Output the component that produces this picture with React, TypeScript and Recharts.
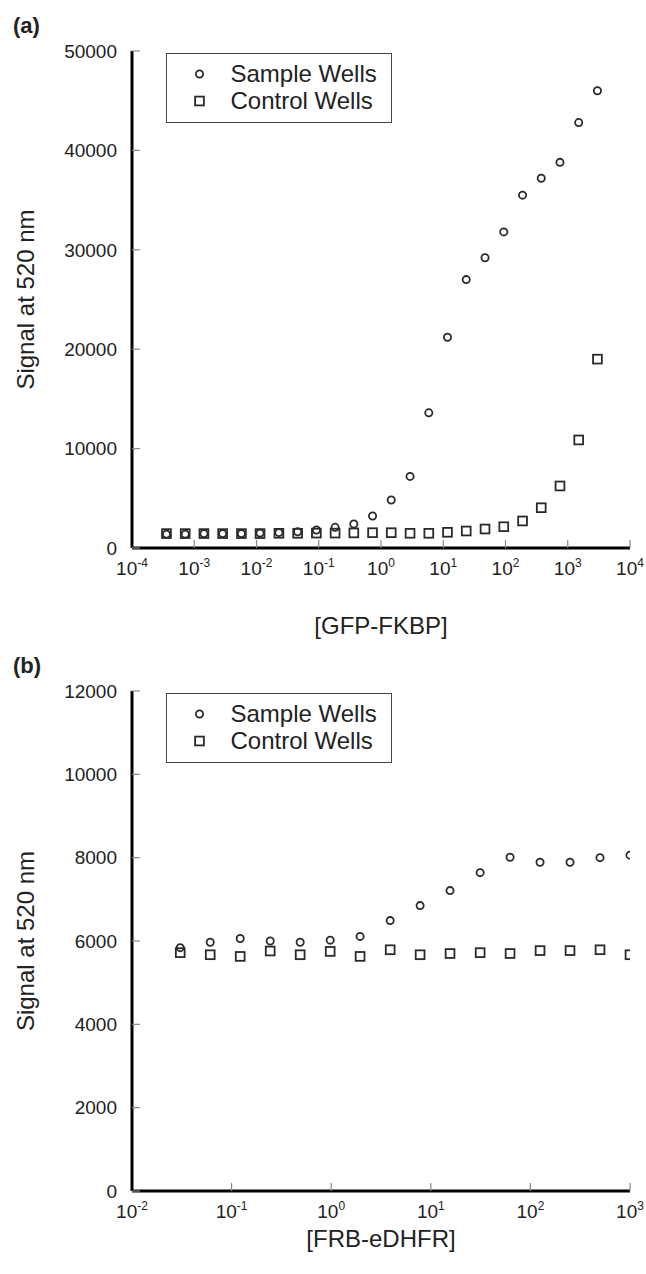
import React from 'react'
import { ScatterChart, Scatter, XAxis, YAxis, Legend } from 'recharts'

const FONT = '"Liberation Sans", Arial, Helvetica, sans-serif'
const INK = '#2a2a2a'

// (a) GFP-FKBP titration
const gfpConc = [
  0.000358, 0.000715, 0.00143, 0.00286, 0.00572, 0.0114, 0.0229, 0.0458,
  0.0916, 0.183, 0.366, 0.732, 1.46, 2.93, 5.86, 11.7, 23.4, 46.9, 93.8,
  188, 375, 750, 1500, 3000,
]
const gfpSample = [
  1400, 1400, 1450, 1450, 1450, 1500, 1550, 1640, 1810, 2080, 2410, 3220,
  4830, 7200, 13600, 21200, 27000, 29200, 31800, 35500, 37200, 38800, 42800, 46000,
]
const gfpControl = [
  1450, 1450, 1450, 1450, 1450, 1450, 1480, 1480, 1500, 1500, 1520, 1540,
  1540, 1480, 1480, 1580, 1710, 1910, 2140, 2720, 4050, 6240, 10870, 19000,
]
const gfpXTicks = [1e-4, 1e-3, 1e-2, 1e-1, 1, 10, 100, 1000, 10000]
const gfpYTicks = [0, 10000, 20000, 30000, 40000, 50000]

// (b) FRB-eDHFR titration
const frbConc = [
  0.0305, 0.061, 0.122, 0.244, 0.488, 0.977, 1.95, 3.91, 7.81, 15.6, 31.3,
  62.5, 125, 250, 500, 1000,
]
const frbSample = [
  5840, 5970, 6060, 6000, 5970, 6020, 6110, 6490, 6850, 7210, 7640, 8010,
  7890, 7890, 8000, 8060,
]
const frbControl = [
  5720, 5670, 5630, 5760, 5670, 5750, 5630, 5790, 5670, 5700, 5720, 5700,
  5770, 5770, 5790, 5670,
]
const frbXTicks = [1e-2, 1e-1, 1, 10, 100, 1000]
const frbYTicks = [0, 2000, 4000, 6000, 8000, 10000, 12000]

const legendItems = [
  { name: 'Sample Wells', shape: 'circle' },
  { name: 'Control Wells', shape: 'square' },
]

const toPoints = (conc: number[], vals: number[]) =>
  conc.map((c, i) => ({ conc: c, signal: vals[i] }))

function CircleMark(props: any) {
  const { cx, cy } = props
  return <circle cx={cx} cy={cy} r={3.6} fill="none" stroke={INK} strokeWidth={1.8} />
}

function SquareMark(props: any) {
  const { cx, cy } = props
  return (
    <rect x={cx - 4.4} y={cy - 4.4} width={8.8} height={8.8} fill="none" stroke={INK} strokeWidth={1.8} />
  )
}

function PowerTick(props: any) {
  const { x, y, payload } = props
  const exp = Math.round(Math.log10(payload.value))
  return (
    <text x={x} y={y} textAnchor="middle" fontFamily={FONT} fontSize={19} fill="#222">
      10
      <tspan dy={-8} fontSize={12}>
        {exp}
      </tspan>
    </text>
  )
}

function WellsLegend() {
  return (
    <div
      style={{
        width: 226,
        height: 70,
        border: '1.5px solid #444',
        boxSizing: 'border-box',
        background: '#fff',
        position: 'relative',
        fontFamily: FONT,
        fontSize: 24,
        color: '#222',
      }}
    >
      {legendItems.map((item, i) => (
        <div
          key={item.name}
          style={{ position: 'absolute', left: 0, top: 6.5 + i * 27.7, height: 26, display: 'flex', alignItems: 'center' }}
        >
          <svg width={60} height={26}>
            {item.shape === 'circle' ? (
              <circle cx={32.5} cy={13} r={3.6} fill="none" stroke={INK} strokeWidth={1.8} />
            ) : (
              <rect x={28.1} y={8.6} width={8.8} height={8.8} fill="none" stroke={INK} strokeWidth={1.8} />
            )}
          </svg>
          <span style={{ marginLeft: 3.5, lineHeight: '26px', whiteSpace: 'nowrap' }}>{item.name}</span>
        </div>
      ))}
    </div>
  )
}

const yTitle = (props: any) => {
  const { viewBox } = props
  const cx = viewBox.x + 25
  const cy = viewBox.y + viewBox.height / 2
  return (
    <text
      x={cx}
      y={cy}
      transform={`rotate(-90, ${cx}, ${cy})`}
      textAnchor="middle"
      dominantBaseline="central"
      fontFamily={FONT}
      fontSize={24}
      fill="#222"
    >
      Signal at 520 nm
    </text>
  )
}

const xTitle = (text: string, drop: number) => (props: any) => {
  const { viewBox } = props
  return (
    <text
      x={viewBox.x + viewBox.width / 2}
      y={viewBox.y + drop}
      textAnchor="middle"
      dominantBaseline="central"
      fontFamily={FONT}
      fontSize={24}
      fill="#222"
    >
      {text}
    </text>
  )
}

interface PanelProps {
  height: number
  xAxisHeight: number
  titleDrop: number
  xLabel: string
  conc: number[]
  sample: number[]
  control: number[]
  xTicks: number[]
  yTicks: number[]
}

function Panel({ height, xAxisHeight, titleDrop, xLabel, conc, sample, control, xTicks, yTicks }: PanelProps) {
  const yMax = yTicks[yTicks.length - 1]
  return (
    <ScatterChart width={646} height={height} margin={{ top: 51, right: 16, left: 0, bottom: 0 }}>
      <XAxis
        type="number"
        dataKey="conc"
        scale="log"
        domain={[xTicks[0], xTicks[xTicks.length - 1]]}
        ticks={xTicks}
        interval={0}
        height={xAxisHeight}
        allowDataOverflow
        axisLine={{ stroke: '#000', strokeWidth: 3 }}
        tickLine={{ stroke: '#888', strokeWidth: 1.2 }}
        tickSize={-8}
        tickMargin={35}
        tick={<PowerTick />}
        label={xTitle(xLabel, titleDrop)}
      />
      <YAxis
        type="number"
        dataKey="signal"
        domain={[0, yMax]}
        ticks={yTicks}
        interval={0}
        width={132}
        axisLine={{ stroke: '#000', strokeWidth: 3 }}
        tickLine={{ stroke: '#888', strokeWidth: 1.2 }}
        tickSize={-8}
        tickMargin={23}
        tick={{ fontSize: 19, fill: '#222', fontFamily: FONT }}
        label={yTitle}
      />
      <Legend
        layout="vertical"
        align="center"
        verticalAlign="middle"
        content={<WellsLegend />}
        wrapperStyle={{ left: 166, top: 53, width: 226, height: 70 }}
      />
      <Scatter name="Control Wells" data={toPoints(conc, control)} shape={<SquareMark />} isAnimationActive={false} />
      <Scatter name="Sample Wells" data={toPoints(conc, sample)} shape={<CircleMark />} isAnimationActive={false} />
    </ScatterChart>
  )
}

const panelTag: React.CSSProperties = {
  position: 'absolute',
  left: 13,
  fontFamily: FONT,
  fontWeight: 'bold',
  fontSize: 22,
  lineHeight: 1,
  color: '#222',
}

export default function App() {
  return (
    <div style={{ position: 'absolute', left: 0, top: 0, width: 646, height: 1274, background: '#fff' }}>
      <div style={{ position: 'absolute', left: 0, top: 0 }}>
        <Panel
          height={660}
          xAxisHeight={112}
          titleDrop={77}
          xLabel="[GFP-FKBP]"
          conc={gfpConc}
          sample={gfpSample}
          control={gfpControl}
          xTicks={gfpXTicks}
          yTicks={gfpYTicks}
        />
      </div>
      <div style={{ position: 'absolute', left: 0, top: 640 }}>
        <Panel
          height={634}
          xAxisHeight={83}
          titleDrop={47}
          xLabel="[FRB-eDHFR]"
          conc={frbConc}
          sample={frbSample}
          control={frbControl}
          xTicks={frbXTicks}
          yTicks={frbYTicks}
        />
      </div>
      <div style={{ ...panelTag, top: 15 }}>(a)</div>
      <div style={{ ...panelTag, top: 655 }}>(b)</div>
    </div>
  )
}
